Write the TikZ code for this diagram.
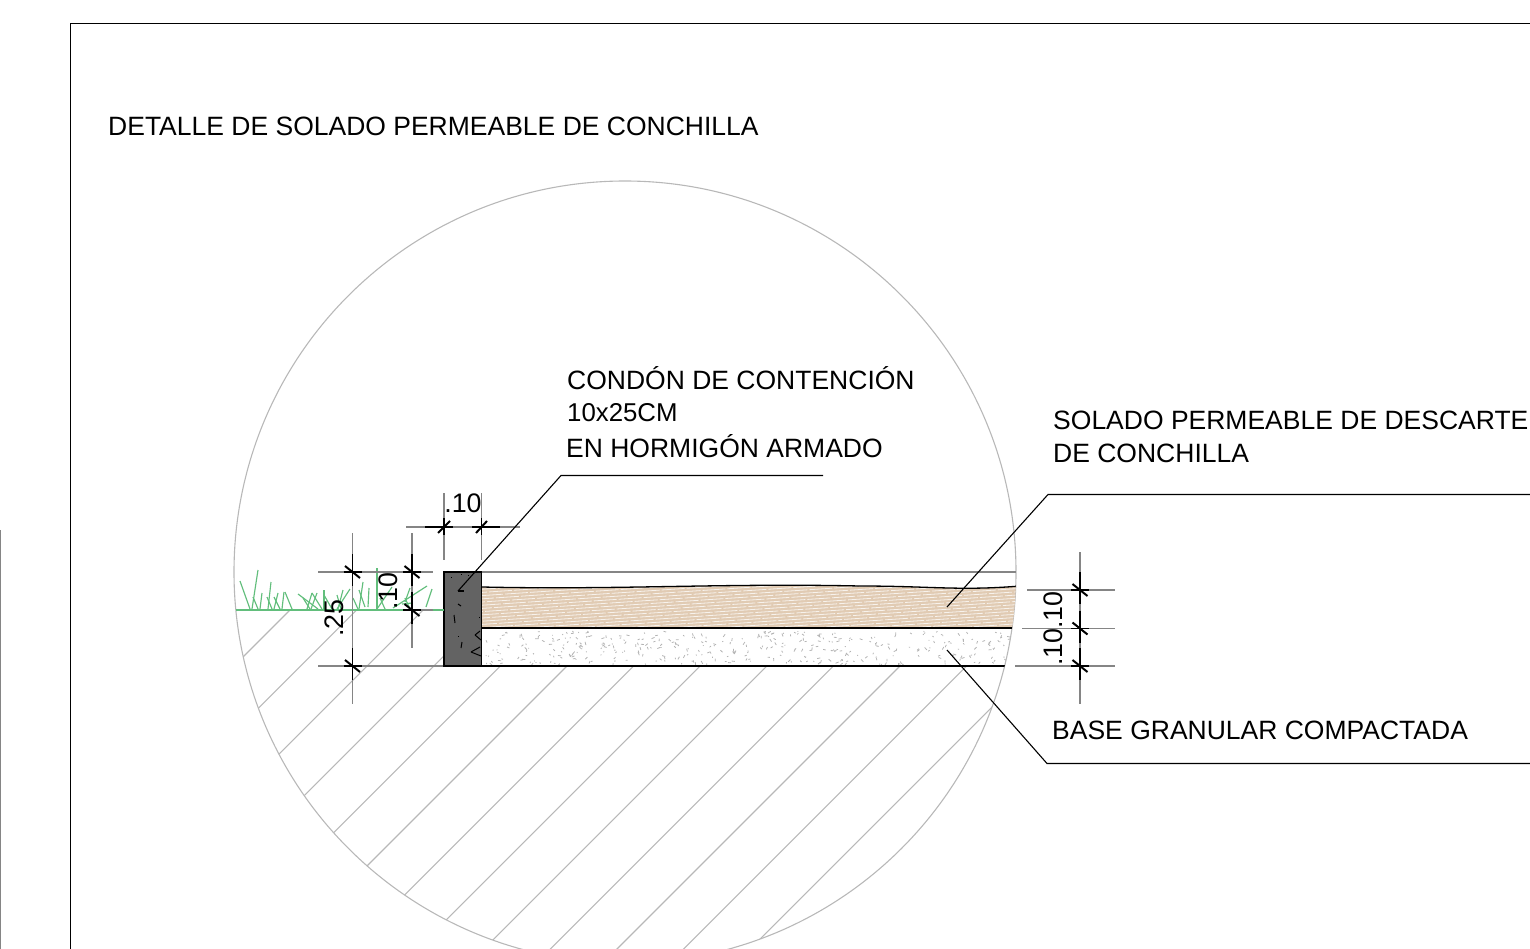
\documentclass[tikz,border=0pt]{standalone}
\usepackage{fontspec}
\setmainfont{Liberation Sans}
\definecolor{hatchgrey}{HTML}{B8B8B8}
\definecolor{dimgrey}{HTML}{858585}
\definecolor{curbgrey}{HTML}{636363}
\definecolor{shelltan}{HTML}{E1CBB3}
\definecolor{shelllight}{HTML}{F7F2EC}
\definecolor{grassgreen}{HTML}{62BE7C}
\definecolor{speckgrey}{HTML}{B4B4B4}
\tikzset{
  hatchline/.style={hatchgrey,line width=1.1pt},
  dimline/.style={dimgrey,line width=1.1pt},
  layerline/.style={black,line width=1.3pt},
  leaderline/.style={black,line width=1.1pt},
  grassline/.style={grassgreen,line width=1.15pt},
  notetext/.style={anchor=base west,inner sep=0pt,font=\fontsize{26.5}{28}\selectfont},
  dimtext/.style={inner sep=0pt,font=\fontsize{26.8}{30}\selectfont}
}
\newcommand{\dimtick}[2]{%
  \draw[black,line width=1.2pt] (#1-9,#2) -- (#1+9,#2);
  \draw[black,line width=1.4pt] (#1,#2-18) -- (#1,#2+14);
  \draw[black,line width=2pt] (#1-7.5,#2-6) -- (#1+7.5,#2+6);
}
\begin{document}
\begin{tikzpicture}[x=1pt,y=-1pt]
  \useasboundingbox (0,0) rectangle (1530,949);
  \clip (0,0) rectangle (1530,949);
  % sheet frame
  \draw[black,line width=1.1pt] (70.5,949) -- (70.5,23.5) -- (1530,23.5);
  \draw[dimgrey,line width=1.2pt] (0.5,530) -- (0.5,949);
  % title
  \node[notetext] (title) at (108,136) {DETALLE DE SOLADO PERMEABLE DE CONCHILLA};
  % ground hatch
  \begin{scope}
    \clip (625,572) circle (391);
    \clip (0,610) -- (444,610) -- (444,666) -- (1530,666) -- (1530,949) -- (0,949) -- cycle;
    \foreach \k in {0,...,12}
      \draw[hatchline] ({900+66.6*\k-200},200) -- ({900+66.6*\k-1000},1000);
  \end{scope}
  % detail circle
  \draw[hatchline] (625,572) circle (391);
  % shell layer and granular base
  \begin{scope}
    \clip (625,572) circle (391);
    \fill[shelltan] (482,587) .. controls (620,590) and (720,583) .. (860,586)
      .. controls (930,586) and (960,591) .. (1020,586) -- (1020,628) -- (482,628) -- cycle;
    \begin{scope}
      \clip (482,587) .. controls (620,590) and (720,583) .. (860,586)
        .. controls (930,586) and (960,591) .. (1020,586) -- (1020,628) -- (482,628) -- cycle;
      \foreach \k in {0,...,30}
        \draw[shelllight,line width=0.8pt,dash pattern=on 23pt off 2pt,dash phase={\k*9}] (482,{586+3.2*\k}) -- (1020,{586+3.2*\k-36});
    \end{scope}
    \pgfmathsetseed{4127}
    \foreach \k in {1,...,400}{
      \pgfmathsetmacro{\px}{484+rnd*530}
      \pgfmathsetmacro{\py}{631+rnd*33}
      \pgfmathsetmacro{\ang}{rnd*180}
      \pgfmathsetmacro{\len}{0.8+rnd*2.6}
      \draw[speckgrey,line width=0.8pt] (\px,\py) -- ++(\ang:\len);
    }
    \draw[layerline] (482,587) .. controls (620,590) and (720,583) .. (860,586)
      .. controls (930,586) and (960,591) .. (1020,586);
    \draw[layerline] (482,628) -- (1020,628);
    \draw[layerline] (482,666) -- (1020,666);
  \end{scope}
  \draw[dimline] (482,572) -- (1016,572);
  % curb
  \draw[black,fill=curbgrey,line width=1.2pt] (444,572) rectangle (481.5,666);
  \foreach \sx/\sy/\ex/\ey in {451/577/452/577,461/574/462/574,468/575/469/575,
    458/604/461/606,454/615/455/623,479/617/480/617,458/636/459/636,
    475/635/480/631,475/635/481/640,462/642/461/648,471/652/480/647,471/652/481/656}
    \draw[black,line width=1pt] (\sx,\sy) -- (\ex,\ey);
  % grass
  \draw[grassline] (236,610) -- (444,610);
  \foreach \sx/\sy/\ex/\ey in {240/581/250/609,258/570/252/609,253/597/258/609,262/593/260/609,
    267/597/272/609,271/582/268/609,274/597/280/609,278/593/274/609,284/592/282/609,
    285/592/292/609,298/594/318/609,303/598/310/609,312/593/307/609,312/593/322/609,
    317/593/311/609,324/590/324/609,324/595/332/609,337/595/341/609,343/590/338/609,
    350/589/337/609,353/598/358/609,363/582/359/609,359/590/365/607,369/588/368/607,
    377/568/377/609,377/609/392/587,380/598/385/609,393/608/427/586,410/588/405/602,
    405/598/410/609,402/604/412/603,432/589/426/607}
    \draw[grassline] (\sx,\sy) -- (\ex,\ey);
  % dimensions, left
  \draw[dimline] (352.5,533) -- (352.5,704);
  \draw[dimline] (412,533) -- (412,648);
  \draw[dimline] (318,572) -- (433,572);
  \draw[dimline] (403,610) -- (433,610);
  \draw[dimline] (318,666) -- (443,666);
  \dimtick{352.5}{572}
  \dimtick{352.5}{666}
  \dimtick{412}{572}
  \dimtick{412}{610}
  \node[dimtext,rotate=90] (dimleftb) at (334,618) {.25};
  \node[dimtext,rotate=90] (dimlefta) at (388,591) {.10};
  % dimensions, top
  \draw[dimline] (444,493) -- (444,560);
  \draw[dimline] (481.5,493) -- (481.5,560);
  \draw[dimline] (406,527) -- (520,527);
  \draw[black,line width=1.2pt] (425,527) -- (453,527) (472,527) -- (500,527);
  \draw[black,line width=1.4pt] (444,518) -- (444,535) (481.5,518) -- (481.5,535);
  \draw[black,line width=2pt] (438,533) -- (450,521) (476,533) -- (487,521);
  \node[dimtext] (dimtop) at (463,503) {.10};
  % dimensions, right
  \draw[dimline] (1080,552) -- (1080,704);
  \draw[dimline] (1027,590) -- (1115,590);
  \draw[dimline] (1022,628.5) -- (1115,628.5);
  \draw[dimline] (1015,666) -- (1115,666);
  \dimtick{1080}{590}
  \dimtick{1080}{628.5}
  \dimtick{1080}{666}
  \node[dimtext,rotate=90] (dimright) at (1053,628.5) {.10.10};
  % notes
  \node[notetext] (curbnote) at (567,389) {CONDÓN DE CONTENCIÓN};
  \node[notetext,font=\fontsize{25.8}{28}\selectfont] (curbsize) at (567,421) {10x25CM};
  \node[notetext] (curbmat) at (566,457) {EN HORMIGÓN ARMADO};
  \node[notetext] (shellnote) at (1053,429) {SOLADO PERMEABLE DE DESCARTE};
  \node[notetext] (shellnoteb) at (1053,462) {DE CONCHILLA};
  \node[notetext] (basenote) at (1052,739) {BASE GRANULAR COMPACTADA};
  % leaders
  \coordinate (curbpt) at (458,591);
  \coordinate (curbknee) at (561,475.5);
  \coordinate (curbend) at (823,475.5);
  \coordinate (shellpt) at (947,607);
  \coordinate (shellknee) at (1048,494.5);
  \coordinate (shellend) at (1530,494.5);
  \coordinate (basept) at (947,650);
  \coordinate (baseknee) at (1047,763.5);
  \coordinate (baseend) at (1530,763.5);
  \draw[leaderline] (curbpt) -- (curbknee) -- (curbend);
  \draw[leaderline] (curbpt) -- ++(6,0);
  \draw[leaderline] (shellpt) -- (shellknee) -- (shellend);
  \draw[leaderline] (basept) -- (baseknee) -- (baseend);
\end{tikzpicture}
\end{document}
